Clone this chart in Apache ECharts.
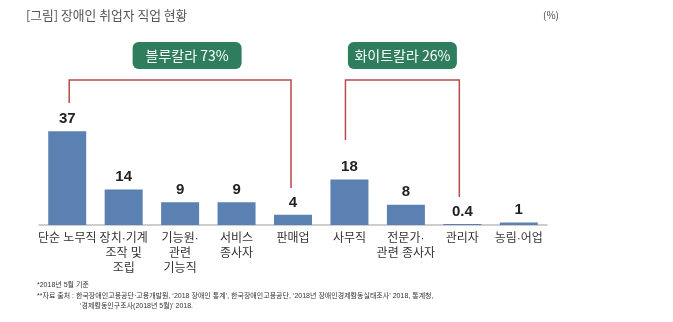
<!DOCTYPE html>
<html><head><meta charset="utf-8">
<script src="https://cdn.jsdelivr.net/npm/echarts@6/dist/echarts.min.js"></script>
<style>html,body{margin:0;padding:0;background:#fff}#c{width:673px;height:322px}</style>
</head><body><div id="c"></div>
<script>
const categories = ['단순 노무직','장치·기계\n조작 및\n조립','기능원·\n관련\n기능직','서비스\n종사자','판매업','사무직','전문가·\n관련 종사자','관리자','농림·어업'];
const values = [37, 14, 9, 9, 4, 18, 8, 0.4, 1];
const valueLabels = ['37','14','9','9','4','18','8','0.4','1'];
const groups = [
  {name:'블루칼라 73%', from:0, to:4},
  {name:'화이트칼라 26%', from:5, to:7}
];
const notes = [
  '*2018년 5월 기준',
  '**자료 출처 : 한국장애인고용공단·고용개발원, ‘2018 장애인 통계’, 한국장애인고용공단, ‘2018년 장애인경제활동실태조사’ 2018, 통계청,',
  '‘경제활동인구조사(2018년 5월)’ 2018.'
];
const KR = '"Noto Sans CJK KR", sans-serif';
const MIX = '"Liberation Sans", "Noto Sans CJK KR", sans-serif';
const NUM = '"Liberation Sans", Arial, sans-serif';
const chart = echarts.init(document.getElementById('c'));
const noteStyle = {fontSize:7, fontWeight:'normal', color:'#333', fontFamily:MIX};
chart.setOption({
  animation:false,
  grid:{left:39, right:126, top:73, bottom:97},
  xAxis:{type:'category', data:categories,
    axisLine:{lineStyle:{color:'#bdbdbd', width:1.5}}, axisTick:{show:false},
    axisLabel:{interval:0, color:'#333', fontSize:12, fontFamily:MIX, lineHeight:15, margin:6}},
  yAxis:{type:'value', min:0, max:60, show:false, splitLine:{show:false}},
  series:[{type:'bar', data:values, barWidth:38, itemStyle:{color:'#5b80b2'},
    label:{show:true, position:'top', distance:5, fontSize:15, fontWeight:'bold', color:'#222', fontFamily:NUM,
      formatter:p=>valueLabels[p.dataIndex]}}],
  title:[
    {text:'[그림] 장애인 취업자 직업 현황', left:26, top:9, padding:0, textStyle:{fontSize:12.8, fontWeight:'normal', color:'#555', fontFamily:KR}},
    {text:'(%)', left:543, top:10, padding:0, textStyle:{fontSize:10, fontWeight:'normal', color:'#444', fontFamily:KR}},
    {text:notes[0], left:37, top:282, padding:0, textStyle:noteStyle},
    {text:notes[1], left:37, top:293, padding:0, textStyle:noteStyle},
    {text:notes[2], left:80, top:303, padding:0, textStyle:noteStyle}
  ]
});
// brackets computed from axis positions
const topY = 80;
const legEnds = [[103,188],[140,197]];
const legOffsets = [[2,-2],[-4,-3]];
const boxes = [];
groups.forEach((g,i)=>{
  const x1 = chart.convertToPixel({xAxisIndex:0}, g.from) + legOffsets[i][0];
  const x2 = chart.convertToPixel({xAxisIndex:0}, g.to) + legOffsets[i][1];
  boxes.push({type:'polyline', shape:{points:[[x1,legEnds[i][0]],[x1,topY],[x2,topY],[x2,legEnds[i][1]]]},
    style:{stroke:'#b9494a', lineWidth:1.5, fill:null}});
  const cx = (x1+x2)/2 + (i===0?7:0);
  const w = 109, h = 27;
  boxes.push({type:'rect', shape:{x:cx-w/2, y:42, width:w, height:h, r:6}, style:{fill:'#2e7d5c'}});
  boxes.push({type:'text', x:cx, y:42+h/2, style:{text:g.name, fill:'#fff', fontSize:14, fontFamily:KR, align:'center', verticalAlign:'middle'}});
});
chart.setOption({graphic:boxes});
</script></body></html>
